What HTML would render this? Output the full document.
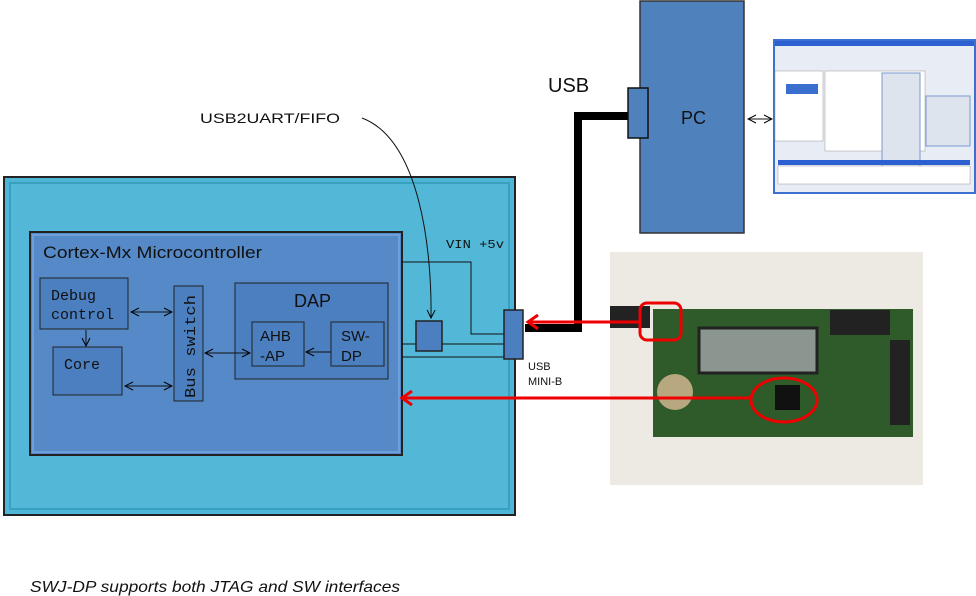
<!DOCTYPE html>
<html><head><style>
body{margin:0;background:#fff;width:976px;height:596px;overflow:hidden;position:relative;font-family:"Liberation Sans",sans-serif}
.a{position:absolute;box-sizing:border-box}
</style></head><body>
<svg class="a" style="left:0;top:0" width="976" height="596">
<defs>
<marker id="ar" markerWidth="10" markerHeight="10" refX="9" refY="5" orient="auto-start-reverse" markerUnits="userSpaceOnUse"><path d="M1,1 L9,5 L1,9" fill="none" stroke="#000" stroke-width="1"/></marker>
<marker id="rr" markerWidth="16" markerHeight="16" refX="11" refY="8" orient="auto" markerUnits="userSpaceOnUse"><path d="M2,1 L12,8 L2,15" fill="none" stroke="#e00" stroke-width="3"/></marker>
</defs>
<rect x="4" y="177" width="511" height="338" fill="#4db6d6" stroke="#222" stroke-width="2"/>
<rect x="10" y="183" width="499" height="326" fill="#53b8d8" stroke="#3aa0c0" stroke-width="2"/>
<rect x="30" y="232" width="372" height="223" fill="#5689c8" stroke="#222" stroke-width="2"/>
<rect x="33" y="235" width="366" height="217" fill="none" stroke="#6d9fd8" stroke-width="2"/>
<text x="43" y="258" font-size="17" fill="#111" textLength="219" lengthAdjust="spacingAndGlyphs">Cortex-Mx Microcontroller</text>
<rect x="40" y="278" width="88" height="51" fill="#4b7fbf" stroke="#222"/>
<rect x="53" y="347" width="69" height="48" fill="#4b7fbf" stroke="#222"/>
<rect x="174" y="286" width="29" height="115" fill="#4b7fbf" stroke="#222"/>
<rect x="235" y="283" width="153" height="96" fill="#4b7fbf" stroke="#222"/>
<rect x="252" y="322" width="52" height="44" fill="#4b7fbf" stroke="#222"/>
<rect x="331" y="322" width="53" height="44" fill="#4b7fbf" stroke="#222"/>
<text x="51" y="300" font-size="15" fill="#111" font-family="Liberation Mono">Debug</text>
<text x="51" y="319" font-size="15" fill="#111" font-family="Liberation Mono">control</text>
<text x="64" y="369" font-size="15" fill="#111" font-family="Liberation Mono">Core</text>
<text x="0" y="0" font-size="15" fill="#111" font-family="Liberation Mono" transform="translate(195,398) rotate(-90)" textLength="103" lengthAdjust="spacingAndGlyphs">Bus switch</text>
<text x="294" y="307" font-size="18" fill="#111">DAP</text>
<text x="260" y="341" font-size="15" fill="#111">AHB</text>
<text x="260" y="361" font-size="15" fill="#111">-AP</text>
<text x="341" y="341" font-size="15" fill="#111">SW-</text>
<text x="341" y="361" font-size="15" fill="#111">DP</text>
<g stroke="#111" stroke-width="1" fill="none">
<line x1="131" y1="312" x2="172" y2="312" marker-start="url(#ar)" marker-end="url(#ar)"/>
<line x1="125" y1="386" x2="172" y2="386" marker-start="url(#ar)" marker-end="url(#ar)"/>
<line x1="86" y1="330" x2="86" y2="346" marker-end="url(#ar)"/>
<line x1="205" y1="353" x2="250" y2="353" marker-start="url(#ar)" marker-end="url(#ar)"/>
<line x1="331" y1="352" x2="306" y2="352" marker-end="url(#ar)"/>
<polyline points="402,262 471,262 471,334 504,334"/>
<line x1="402" y1="344" x2="504" y2="344"/>
<line x1="402" y1="357" x2="504" y2="357"/>
<path d="M362,118 C420,140 432,250 431,318" marker-end="url(#ar)"/>
<line x1="748" y1="119" x2="772" y2="119" marker-start="url(#ar)" marker-end="url(#ar)"/>
</g>
<text x="446" y="248" font-size="12" fill="#111" font-family="Liberation Mono" textLength="58" lengthAdjust="spacingAndGlyphs">VIN +5v</text>
<rect x="416" y="321" width="26" height="30" fill="#4b7fbf" stroke="#222" stroke-width="1.5"/>
<polyline points="525,328 578,328 578,116 628,116" fill="none" stroke="#000" stroke-width="8"/>
<rect x="504" y="310" width="19" height="49" fill="#4b7fbf" stroke="#222" stroke-width="1.5"/>
<text x="528" y="370" font-size="11" fill="#111">USB</text>
<text x="528" y="385" font-size="11" fill="#111">MINI-B</text>
<rect x="640" y="1" width="104" height="232" fill="#4f81bd" stroke="#333" stroke-width="1.5"/>
<rect x="628" y="88" width="20" height="50" fill="#4f81bd" stroke="#111" stroke-width="1.5"/>
<text x="681" y="124" font-size="18" fill="#111">PC</text>
<text x="548" y="92" font-size="20" fill="#111">USB</text>
<text x="200" y="123" font-size="14" fill="#111" textLength="140" lengthAdjust="spacingAndGlyphs">USB2UART/FIFO</text>
<rect x="774" y="40" width="201" height="153" fill="#e8ecf4" stroke="#3b6fd0" stroke-width="2"/>
<rect x="775" y="41" width="199" height="5" fill="#2c5fd0"/>
<rect x="775" y="71" width="48" height="70" fill="#fff" stroke="#999" stroke-width=".5"/>
<rect x="786" y="84" width="32" height="10" fill="#3a6fd0"/>
<rect x="825" y="71" width="100" height="80" fill="#fff" stroke="#999" stroke-width=".5"/>
<rect x="882" y="73" width="38" height="105" fill="#dde4ee" stroke="#7a9ad0"/>
<rect x="926" y="96" width="44" height="50" fill="#dde4ee" stroke="#7a9ad0"/>
<rect x="778" y="160" width="192" height="5" fill="#2c5fd0"/>
<rect x="778" y="166" width="192" height="18" fill="#fff" stroke="#999" stroke-width=".5"/>
<rect x="610" y="252" width="313" height="233" fill="#eceae2"/>
<rect x="653" y="309" width="260" height="128" fill="#2f5a2a"/>
<rect x="610" y="306" width="40" height="22" fill="#222"/>
<rect x="699" y="328" width="118" height="45" fill="#8c9690" stroke="#222" stroke-width="3"/>
<rect x="775" y="385" width="25" height="25" fill="#111"/>
<circle cx="675" cy="392" r="18" fill="#b8a880"/>
<rect x="830" y="310" width="60" height="25" fill="#222"/>
<rect x="890" y="340" width="20" height="85" fill="#222"/>
<rect x="640" y="303" width="41" height="37" rx="7" fill="none" stroke="#e00" stroke-width="3"/>
<ellipse cx="784" cy="400" rx="33" ry="22" fill="none" stroke="#e00" stroke-width="3"/>
<line x1="640" y1="322" x2="529" y2="322" stroke="#e00" stroke-width="3" marker-end="url(#rr)"/>
<line x1="752" y1="398" x2="403" y2="398" stroke="#e00" stroke-width="3" marker-end="url(#rr)"/>
<text x="30" y="592" font-size="16" font-style="italic" fill="#111" textLength="370" lengthAdjust="spacingAndGlyphs">SWJ-DP supports both JTAG and SW interfaces</text>
</svg>
</body></html>
